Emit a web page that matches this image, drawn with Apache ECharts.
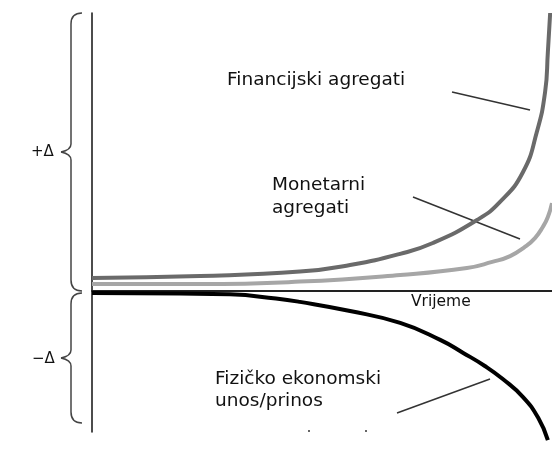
<!DOCTYPE html>
<html>
<head>
<meta charset="utf-8">
<script src="https://cdn.jsdelivr.net/npm/echarts@6/dist/echarts.min.js"></script>
<style>
html, body { margin: 0; padding: 0; background: #fff; }
#chart { width: 552px; height: 452px; }
</style>
</head>
<body>
<div id="chart"></div>
<script>
// vrijeme (0-100) i promjena (+/-) za svaku krivulju
var finTime = [0, 23.5, 45.2, 56.1, 67, 74.1, 83.7, 88.7, 93.7, 96.7, 98.5, 99.1, 99.6];
var finVals = [4.5, 5.2, 6.8, 9.2, 13.2, 17.1, 25.4, 31.9, 42.7, 57.1, 71.5, 85.9, 100];

var monTime = [0, 23.5, 45.2, 67, 81.5, 87, 90.9, 94.1, 96.3, 98, 99.1, 100];
var monVals = [2.3, 2.3, 3.2, 5.6, 8.1, 10.3, 12.4, 15.7, 18.9, 22.9, 26.5, 31.5];

var fizTime = [0, 19.1, 30, 40, 45.2, 56.1, 67, 75.7, 80.7, 85.4, 89.3, 93.7, 97, 99.1];
var fizVals = [-0.9, -1.1, -1.4, -2.9, -4.1, -7.4, -11.7, -17.8, -22.5, -27.2, -31.9, -38.4, -45.9, -53.9];

function pairs(xs, ys) {
  return xs.map(function (x, i) { return [x, ys[i]]; });
}

// vitičasta zagrada: gornji kraj, vrh, donji kraj
function brace(top, tip, bottom) {
  var st = { stroke: '#444', lineWidth: 1.5, fill: null };
  var xv = 71, xe = 82, xt = 61;
  return [
    { type: 'bezierCurve', shape: { x1: xe, y1: top, cpx1: xv, cpy1: top, x2: xv, y2: top + 11 }, style: st },
    { type: 'line', shape: { x1: xv, y1: top + 11, x2: xv, y2: tip - 8 }, style: st },
    { type: 'bezierCurve', shape: { x1: xv, y1: tip - 8, cpx1: xv, cpy1: tip - 2, x2: xt, y2: tip }, style: st },
    { type: 'bezierCurve', shape: { x1: xt, y1: tip, cpx1: xv, cpy1: tip + 2, x2: xv, y2: tip + 8 }, style: st },
    { type: 'line', shape: { x1: xv, y1: tip + 8, x2: xv, y2: bottom - 11 }, style: st },
    { type: 'bezierCurve', shape: { x1: xv, y1: bottom - 11, cpx1: xv, cpy1: bottom, x2: xe, y2: bottom }, style: st }
  ];
}

var font = 'DejaVu Sans';
var chart = echarts.init(document.getElementById('chart'));

var graphics = [].concat(
  brace(13, 152, 291),
  brace(293, 358, 423),
  [
    { type: 'text', style: { text: '+Δ', x: 31, y: 152, font: '15px ' + font, fill: '#111', verticalAlign: 'middle' } },
    { type: 'text', style: { text: '−Δ', x: 32, y: 359, font: '15px ' + font, fill: '#111', verticalAlign: 'middle' } },

    // natpisi
    { type: 'text', style: { text: 'Financijski agregati', x: 227, y: 80, font: '18.5px ' + font, fill: '#111', verticalAlign: 'middle' } },
    { type: 'text', style: { text: 'Monetarni\nagregati', x: 272, y: 197, font: '18.5px ' + font, lineHeight: 23, fill: '#111', verticalAlign: 'middle' } },
    { type: 'text', style: { text: 'Fizičko ekonomski\nunos/prinos', x: 215, y: 390, font: '18.5px ' + font, lineHeight: 22, fill: '#111', verticalAlign: 'middle' } },
    { type: 'text', style: { text: 'Vrijeme', x: 411, y: 302, font: '15.5px ' + font, fill: '#111', verticalAlign: 'middle' } },

    // pokazivači
    { type: 'line', shape: { x1: 452, y1: 92, x2: 530, y2: 110 }, style: { stroke: '#333', lineWidth: 1.5 } },
    { type: 'line', shape: { x1: 413, y1: 197, x2: 520, y2: 239 }, style: { stroke: '#333', lineWidth: 1.5 } },
    { type: 'line', shape: { x1: 397, y1: 413, x2: 490, y2: 379 }, style: { stroke: '#333', lineWidth: 1.5 } },

    { type: 'circle', shape: { cx: 309, cy: 431, r: 1 }, style: { fill: '#333' } },
    { type: 'circle', shape: { cx: 366, cy: 431, r: 1 }, style: { fill: '#333' } }
  ]
);

chart.setOption({
  animation: false,
  backgroundColor: '#fff',
  grid: { left: 92, right: 0, top: 13, bottom: 20 },
  xAxis: {
    type: 'value', min: 0, max: 100,
    axisLine: { show: true, onZero: true, lineStyle: { color: '#222', width: 2 } },
    axisTick: { show: false }, axisLabel: { show: false }, splitLine: { show: false }
  },
  yAxis: {
    type: 'value', min: -51, max: 100,
    axisLine: { show: true, lineStyle: { color: '#111', width: 1.5 } },
    axisTick: { show: false }, axisLabel: { show: false }, splitLine: { show: false }
  },
  series: [
    {
      name: 'Monetarni agregati', type: 'line', data: pairs(monTime, monVals),
      smooth: 0.5, symbol: 'none', clip: false,
      lineStyle: { color: '#a6a6a6', width: 4 }
    },
    {
      name: 'Financijski agregati', type: 'line', data: pairs(finTime, finVals),
      smooth: 0.5, symbol: 'none', clip: false,
      lineStyle: { color: '#6a6a6a', width: 4 }
    },
    {
      name: 'Fizičko ekonomski unos/prinos', type: 'line', data: pairs(fizTime, fizVals),
      smooth: 0.5, symbol: 'none', clip: false,
      lineStyle: { color: '#000', width: 4 }
    }
  ],
  graphic: graphics
});
</script>
</body>
</html>
